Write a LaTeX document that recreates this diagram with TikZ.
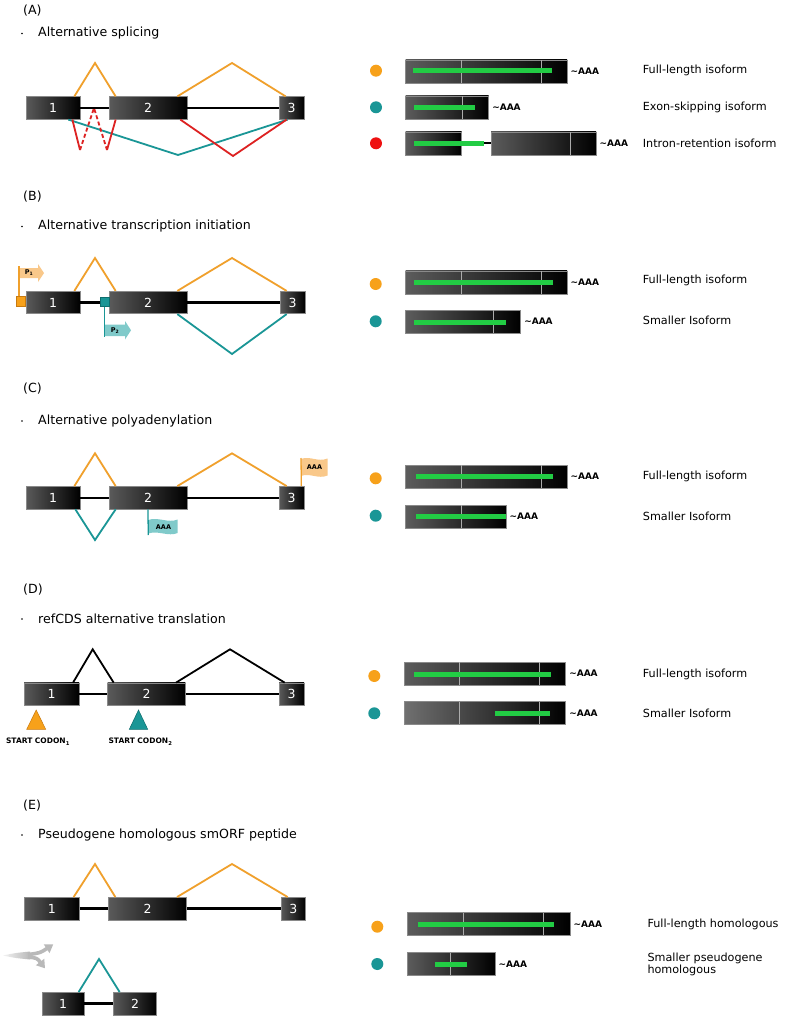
\documentclass[tikz,border=0pt]{standalone}
\usepackage{fontspec}
\setmainfont{DejaVu Sans}
\usetikzlibrary{calc,arrows.meta}
\definecolor{colO}{HTML}{F0A02C}
\definecolor{colOd}{HTML}{C87A10}
\definecolor{dotO}{HTML}{F7A11A}
\definecolor{colT}{HTML}{1A9696}
\definecolor{colTd}{HTML}{0E6E6E}
\definecolor{colR}{HTML}{DD2222}
\definecolor{dotR}{HTML}{EE1111}
\definecolor{colG}{HTML}{22CC44}
\definecolor{lightO}{HTML}{F9C88A}
\definecolor{lightT}{HTML}{80CACA}
\definecolor{exonL}{HTML}{5A5A5A}
\definecolor{trL}{HTML}{5C5C5C}
\definecolor{trL2}{HTML}{707070}
\definecolor{brd}{HTML}{8A8A8A}
\begin{document}
\begin{tikzpicture}[x=1pt,y=1pt,
 exon/.style={draw=brd, line width=0.7pt, inner sep=0pt, minimum height=22.5pt, fill=exonL!50!black, left color=exonL, right color=black, text=white, font=\fontsize{12.5}{12.5}\selectfont},
 tbox/.style={draw=brd, line width=0.7pt, inner sep=0pt, minimum height=23pt, fill=trL!50!black, left color=trL, right color=black},
 intron/.style={line width=2.4pt, black},
 jo/.style={line width=1.8pt, colO},
 jt/.style={line width=1.8pt, colT},
 jr/.style={line width=1.8pt, colR},
 jk/.style={line width=1.8pt, black},
 cds/.style={line width=5pt, colG},
 sepl/.style={line width=0.8pt, gray!65},
 dot/.style={circle, inner sep=0pt, minimum size=12pt},
 aaa/.style={anchor=west, inner sep=0pt, xshift=3pt, font=\bfseries\fontsize{9}{9}\selectfont},
 lbl/.style={anchor=west, inner sep=0pt, align=left, font=\fontsize{11.2}{12.4}\selectfont},
 head/.style={anchor=west, inner sep=0pt, font=\fontsize{12.6}{14}\selectfont},
 bul/.style={circle, fill=black, inner sep=0pt, minimum size=1.8pt},
 flagtxt/.style={inner sep=0pt, font=\bfseries\fontsize{6.5}{6.5}\selectfont},
 codon/.style={inner sep=0pt, font=\bfseries\fontsize{7.5}{7.5}\selectfont},
]
\useasboundingbox (0,0) rectangle (784,-1019);
\fill[white] (0,0) rectangle (784,-1019);

% ---------------- headers
\node[head] (hA) at (23,-11) {(A)};
\node[bul] (bA) at (22,-33.5) {};
\node[head] (tA) at (38,-33.5) {Alternative splicing};
\node[head] (hB) at (23,-197) {(B)};
\node[bul] (bB) at (22,-226.5) {};
\node[head] (tB) at (38,-226.5) {Alternative transcription initiation};
\node[head] (hC) at (23,-389) {(C)};
\node[bul] (bC) at (22,-421) {};
\node[head] (tC) at (38,-421) {Alternative polyadenylation};
\node[head] (hD) at (23,-590) {(D)};
\node[bul] (bD) at (22,-619) {};
\node[head] (tD) at (38,-619) {refCDS alternative translation};
\node[head] (hE) at (23,-806) {(E)};
\node[bul] (bE) at (22,-835) {};
\node[head] (tE) at (38,-835) {Pseudogene homologous smORF peptide};

% ---------------- Panel A left
\node[exon, minimum width=54pt] (a1) at (53,-108) {1};
\node[exon, minimum width=78pt] (a2) at (148,-108) {2};
\node[exon, minimum width=25pt] (a3) at (291.5,-108) {3};
\draw[intron] (a1.east) -- (a2.west);
\draw[intron] (a2.east) -- (a3.west);
\draw[jo] ($(a1.north east)+(-6,0)$) -- (95,-63) -- ($(a2.north west)+(7,0)$);
\draw[jo] ($(a2.north east)+(-10,0)$) -- (232,-63) -- ($(a3.north west)+(7,0)$);
\draw[jt] ($(a1.south east)+(-12,0)$) -- (178,-155) -- ($(a3.south west)+(9,0)$);
\coordinate (ra) at (80,-150);
\coordinate (rb) at (94,-108);
\coordinate (rc) at (107,-150);
\draw[jr] ($(a1.south east)+(-8,0)$) -- (ra);
\draw[jr, dash pattern=on 4pt off 2.5pt] (ra) -- (rb) -- (rc);
\draw[jr] (rc) -- ($(a2.south west)+(7,0)$);
\draw[jr] ($(a2.south east)+(-7,0)$) -- (233,-156) -- ($(a3.south west)+(8,0)$);

% ---------------- Panel A right
\node[dot, fill=dotO] (ad1) at (376,-70.7) {};
\node[tbox, minimum width=161.3pt] (at1) at (486.35,-71.5) {};
\draw[sepl] (461.7,-60.3) -- (461.7,-82.7);
\draw[sepl] (541,-60.3) -- (541,-82.7);
\draw[cds] (412.7,-71) -- (552,-71);
\node[aaa] (aa1) at (at1.east) {\textasciitilde AAA};
\node[lbl] (al1) at (642.7,-70) {Full-length isoform};

\node[dot, fill=colT] (ad2) at (376,-107.3) {};
\node[tbox, minimum width=83pt] (at2) at (447.2,-107.5) {};
\draw[sepl] (462.7,-96.3) -- (462.7,-118.7);
\draw[cds] (414,-107.3) -- (475,-107.3);
\node[aaa] (aa2) at (at2.east) {\textasciitilde AAA};
\node[lbl] (al2) at (642.7,-107) {Exon-skipping isoform};

\node[dot, fill=dotR] (ad3) at (376,-143.3) {};
\node[tbox, minimum width=56pt] (at3a) at (433.7,-143.4) {};
\node[tbox, minimum width=105pt] (at3b) at (543.5,-143.4) {};
\draw[line width=2pt, black] (at3a.east) -- (at3b.west);
\draw[sepl] (570.7,-132.2) -- (570.7,-154.6);
\draw[cds] (414,-143.7) -- (484,-143.7);
\node[aaa] (aa3) at (at3b.east) {\textasciitilde AAA};
\node[lbl] (al3) at (642.7,-143) {Intron-retention isoform};

% ---------------- Panel B left
\node[exon, minimum width=54pt] (b1) at (53,-302.5) {1};
\node[exon, minimum width=78pt] (b2) at (148,-302.5) {2};
\node[exon, minimum width=25pt] (b3) at (292.5,-302.5) {3};
\draw[intron] (b1.east) -- (b2.west);
\draw[intron] (b2.east) -- (b3.west);
\draw[jo] ($(b1.north east)+(-6,0)$) -- (95,-258) -- ($(b2.north west)+(7,0)$);
\draw[jo] ($(b2.north east)+(-10,0)$) -- (232,-258) -- ($(b3.north west)+(7,0)$);
\draw[jt] ($(b2.south east)+(-10,0)$) -- (232,-354) -- ($(b3.south west)+(7,0)$);
% promoter 1
\node[draw=colOd, fill=dotO, line width=0.5pt, minimum size=9.5pt, inner sep=0pt] (p1) at (20.85,-301.35) {};
\fill[lightO] (19,-268) -- (38,-268) -- (38,-264) -- (44,-273) -- (38,-282) -- (38,-278) -- (19,-278) -- cycle;
\draw[colO, line width=1.3pt] ($(p1.north)+(-1.85,0)$) -- (19,-266);
\node[flagtxt] (p1t) at (29,-273) {P\textsubscript{1}};
% promoter 2
\node[draw=colTd, fill=colT, line width=0.5pt, minimum size=9.5pt, inner sep=0pt] (p2) at (104.5,-301.7) {};
\fill[lightT] (105,-324.5) -- (125,-324.5) -- (125,-321) -- (131,-330.3) -- (125,-339.5) -- (125,-336) -- (105,-336) -- cycle;
\draw[colT, line width=1.3pt] (p2.south) -- (104.5,-337);
\node[flagtxt] (p2t) at (115,-330.5) {P\textsubscript{2}};

% ---------------- Panel B right
\node[dot, fill=dotO] (bd1) at (375.7,-284) {};
\node[tbox, minimum width=161.3pt] (bt1) at (486.35,-282.35) {};
\draw[sepl] (461.7,-271.15) -- (461.7,-293.55);
\draw[sepl] (541,-271.15) -- (541,-293.55);
\draw[cds] (414,-282.3) -- (552.7,-282.3);
\node[aaa] (ba1) at (bt1.east) {\textasciitilde AAA};
\node[lbl] (bl1) at (642.7,-280.7) {Full-length isoform};

\node[dot, fill=colT] (bd2) at (375.7,-321.3) {};
\node[tbox, minimum width=115pt] (bt2) at (463.2,-321.65) {};
\draw[sepl] (493.3,-310.45) -- (493.3,-332.85);
\draw[cds] (414,-322.3) -- (505.7,-322.3);
\node[aaa] (ba2) at (bt2.east) {\textasciitilde AAA};
\node[lbl] (bl2) at (642.7,-320.7) {Smaller Isoform};

% ---------------- Panel C left
\node[exon, minimum width=54pt] (c1) at (53,-497.7) {1};
\node[exon, minimum width=78pt] (c2) at (148,-497.7) {2};
\node[exon, minimum width=25pt] (c3) at (291.5,-497.7) {3};
\draw[intron] (c1.east) -- (c2.west);
\draw[intron] (c2.east) -- (c3.west);
\draw[jo] ($(c1.north east)+(-6,0)$) -- (95,-453.3) -- ($(c2.north west)+(7,0)$);
\draw[jo] ($(c2.north east)+(-10,0)$) -- (232,-453.3) -- ($(c3.north west)+(8,0)$);
\draw[jt] ($(c1.south east)+(-5,0)$) -- (95,-540) -- ($(c2.south west)+(7,0)$);
% orange polyA flag
\fill[lightO] (301,-459) .. controls (310,-455.5) and (318,-462.5) .. (327.5,-458.5) -- (327.5,-475.5) .. controls (318,-479.5) and (310,-472.5) .. (301,-476) -- cycle;
\draw[colO, line width=1.3pt] ($(c3.north east)+(-3,0)$) -- (301,-458);
\node[flagtxt] (cfa) at (314.5,-467.3) {AAA};
% teal polyA flag
\fill[lightT] (148.3,-520) .. controls (158,-516.5) and (168,-523.5) .. (177.7,-519.5) -- (177.7,-533) .. controls (168,-537) and (158,-530) .. (148.3,-533.5) -- cycle;
\draw[colT, line width=1.3pt] ($(c2.south west)+(39.3,0)$) -- (148.3,-535);
\node[flagtxt] (cfb) at (163.5,-526.8) {AAA};

% ---------------- Panel C right
\node[dot, fill=dotO] (cd1) at (375.7,-478.3) {};
\node[tbox, minimum width=161.3pt] (ct1) at (486.35,-476.65) {};
\draw[sepl] (461.7,-465.45) -- (461.7,-487.85);
\draw[sepl] (541.7,-465.45) -- (541.7,-487.85);
\draw[cds] (416,-476.7) -- (553.3,-476.7);
\node[aaa] (ca1) at (ct1.east) {\textasciitilde AAA};
\node[lbl] (cl1) at (642.7,-476.7) {Full-length isoform};

\node[dot, fill=colT] (cd2) at (375.7,-515.7) {};
\node[tbox, minimum width=100.3pt] (ct2) at (455.85,-516.65) {};
\draw[sepl] (461.7,-505.45) -- (461.7,-527.85);
\draw[cds] (416,-516) -- (505.5,-516);
\node[aaa] (ca2) at (ct2.east) {\textasciitilde AAA};
\node[lbl] (cl2) at (642.7,-516) {Smaller Isoform};

% ---------------- Panel D left
\node[exon, minimum width=55pt] (d1) at (51.5,-694.2) {1};
\node[exon, minimum width=77.6pt] (d2) at (146.5,-694.2) {2};
\node[exon, minimum width=25pt] (d3) at (291.5,-694.2) {3};
\draw[intron] (d1.east) -- (d2.west);
\draw[intron] (d2.east) -- (d3.west);
\draw[jk] ($(d1.north east)+(-6.3,0)$) -- (92.7,-649.3) -- ($(d2.north west)+(6.3,0)$);
\draw[jk] ($(d2.north east)+(-9.6,0)$) -- (230,-649.3) -- ($(d3.north west)+(6,0)$);
\filldraw[fill=dotO, draw=colOd, line width=0.5pt] (26.7,-729.3) -- (36.2,-710) -- (45.7,-729.3) -- cycle;
\filldraw[fill=colT, draw=colTd, line width=0.5pt] (129.3,-729.3) -- (138.5,-710) -- (147.7,-729.3) -- cycle;
\node[codon] (sc1) at (38,-741.7) {START CODON\textsubscript{1}};
\node[codon] (sc2) at (140.5,-741.7) {START CODON\textsubscript{2}};

% ---------------- Panel D right
\node[dot, fill=dotO] (dd1) at (374.3,-676) {};
\node[tbox, minimum width=161.4pt] (dt1) at (485,-673.65) {};
\draw[sepl] (459.3,-662.45) -- (459.3,-684.85);
\draw[sepl] (539.3,-662.45) -- (539.3,-684.85);
\draw[cds] (414.3,-674) -- (550.7,-674);
\node[aaa] (da1) at (dt1.east) {\textasciitilde AAA};
\node[lbl] (dl1) at (642.7,-674) {Full-length isoform};

\node[dot, fill=colT] (dd2) at (374.3,-713.3) {};
\node[tbox, minimum width=161.4pt, left color=trL2] (dt2) at (485,-713) {};
\draw[sepl] (459.3,-701.8) -- (459.3,-724.2);
\draw[sepl] (539.3,-701.8) -- (539.3,-724.2);
\draw[cds] (495,-713.3) -- (550,-713.3);
\node[aaa] (da2) at (dt2.east) {\textasciitilde AAA};
\node[lbl] (dl2) at (642.7,-713.3) {Smaller Isoform};

% ---------------- Panel E left
\node[exon, minimum width=55pt] (e1) at (51.8,-908.65) {1};
\node[exon, minimum width=78pt] (e2) at (147.7,-908.65) {2};
\node[exon, minimum width=24.7pt] (e3) at (293.35,-908.65) {3};
\draw[intron] (e1.east) -- (e2.west);
\draw[intron] (e2.east) -- (e3.west);
\draw[jo] ($(e1.north east)+(-6,0)$) -- (95,-864) -- ($(e2.north west)+(7,0)$);
\draw[jo] ($(e2.north east)+(-10,0)$) -- (232,-864) -- ($(e3.north west)+(7,0)$);
% gray split arrow
\shade[left color=gray!10, right color=gray!55] (3,-955.5) .. controls (15,-953) .. (30,-951.5) -- (30,-959.5) .. controls (15,-958) .. (3,-955.5) -- cycle;
\draw[gray!55, line width=3.6pt, -{Triangle[length=8pt,width=10pt]}] (28,-954.5) .. controls (40,-953) .. (53.3,-944.3);
\draw[gray!55, line width=3.6pt, -{Triangle[length=8pt,width=10pt]}] (28,-957) .. controls (37,-958) .. (45,-968.3);
% lower (pseudogene) gene
\node[exon, minimum width=41.7pt] (f1) at (63.15,-1003.65) {1};
\node[exon, minimum width=43.4pt] (f2) at (135,-1003.65) {2};
\draw[intron] (f1.east) -- (f2.west);
\draw[jt] ($(f1.north east)+(-5.7,0)$) -- (99,-959) -- ($(f2.north west)+(6.7,0)$);

% ---------------- Panel E right
\node[dot, fill=dotO] (ed1) at (377.3,-926.7) {};
\node[tbox, minimum width=162.7pt] (et1) at (488.65,-924) {};
\draw[sepl] (463.3,-912.8) -- (463.3,-935.2);
\draw[sepl] (543.3,-912.8) -- (543.3,-935.2);
\draw[cds] (417.7,-924.3) -- (554.3,-924.3);
\node[aaa] (ea1) at (et1.east) {\textasciitilde AAA};
\node[lbl] (el1) at (647.3,-924.3) {Full-length homologous};

\node[dot, fill=colT] (ed2) at (377.3,-964) {};
\node[tbox, minimum width=87.7pt] (et2) at (451.15,-964) {};
\draw[sepl] (450.7,-952.8) -- (450.7,-975.2);
\draw[cds] (435,-964) -- (467.3,-964);
\node[aaa] (ea2) at (et2.east) {\textasciitilde AAA};
\node[lbl] (el2) at (647.3,-964.5) {Smaller pseudogene\\homologous};
\end{tikzpicture}
\end{document}
